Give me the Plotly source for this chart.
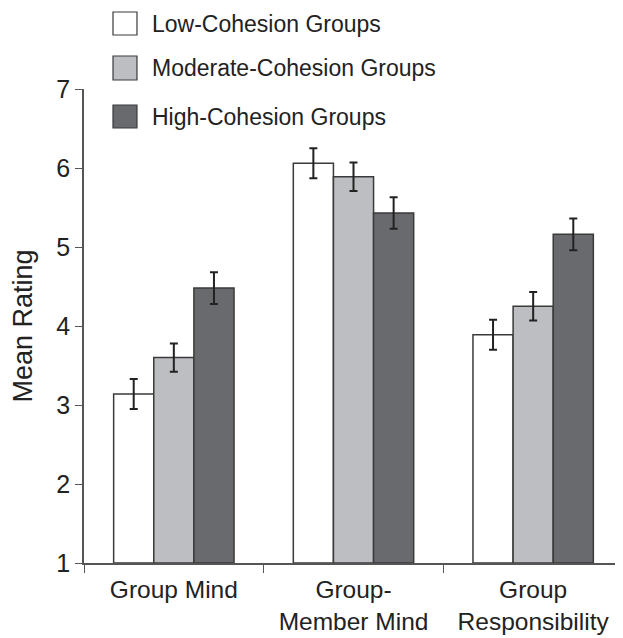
import plotly.graph_objects as go

categories = ["Group Mind", "Group-<br>Member Mind", "Group<br>Responsibility"]
series_names = ["Low-Cohesion Groups", "Moderate-Cohesion Groups", "High-Cohesion Groups"]
low_vals = [3.14, 6.06, 3.89]
mod_vals = [3.60, 5.89, 4.25]
high_vals = [4.48, 5.43, 5.16]
low_err = [0.19, 0.19, 0.19]
mod_err = [0.18, 0.18, 0.18]
high_err = [0.20, 0.20, 0.20]
y_ticks = [1, 2, 3, 4, 5, 6, 7]

colors = ["#ffffff", "#bdbec2", "#696a6e"]
values = [low_vals, mod_vals, high_vals]
errors = [low_err, mod_err, high_err]

FONT = "Liberation Sans, Arial, sans-serif"

fig = go.Figure()
for name, vals, errs, col in zip(series_names, values, errors, colors):
    fig.add_trace(go.Bar(
        x=categories, y=[v - 1 for v in vals], base=1, name=name,
        marker=dict(color=col, line=dict(color="#3a3a3a", width=1.5)),
        error_y=dict(type="data", array=errs, color="#222222", thickness=2, width=4),
        showlegend=False,
    ))

# legend drawn manually (swatches + labels)
leg_y = [(1.1624, 1.1139), (1.0696, 1.019), (0.9662, 0.9177)]
for (y1, y0), name, col in zip(leg_y, series_names, colors):
    fig.add_shape(type="rect", xref="paper", yref="paper", x0=0.0538, x1=0.0983,
                  y0=y0, y1=y1, fillcolor=col, line=dict(color="#3a3a3a", width=1.2))
    fig.add_annotation(xref="paper", yref="paper", x=0.128, y=(y0 + y1) / 2,
                       text=name, showarrow=False, xanchor="left", yanchor="middle",
                       xshift=-3,
                       font=dict(family=FONT, size=23, color="#222222"))

fig.update_layout(
    width=615, height=630,
    margin=dict(l=76, r=0, t=81, b=75),
    paper_bgcolor="white", plot_bgcolor="white",
    barmode="group", bargap=0.33, bargroupgap=0,
    font=dict(family=FONT, size=25, color="#222222"),
    xaxis=dict(showline=True, linecolor="#555555", linewidth=1.5, automargin=False,
               ticks="outside", tickson="boundaries", ticklen=8, tickcolor="#555555",
               tickfont=dict(size=24.5), ticklabelstandoff=4,
               showgrid=False, zeroline=False),
    yaxis=dict(range=[1, 7], tickvals=y_ticks, showline=True, linecolor="#555555",
               linewidth=1.5, ticks="outside", ticklen=7, tickcolor="#555555",
               automargin=False,
               showgrid=False, zeroline=False, tickfont=dict(size=25),
               title=dict(text="Mean Rating", font=dict(size=27), standoff=18)),
)

fig.write_html("out.html")
